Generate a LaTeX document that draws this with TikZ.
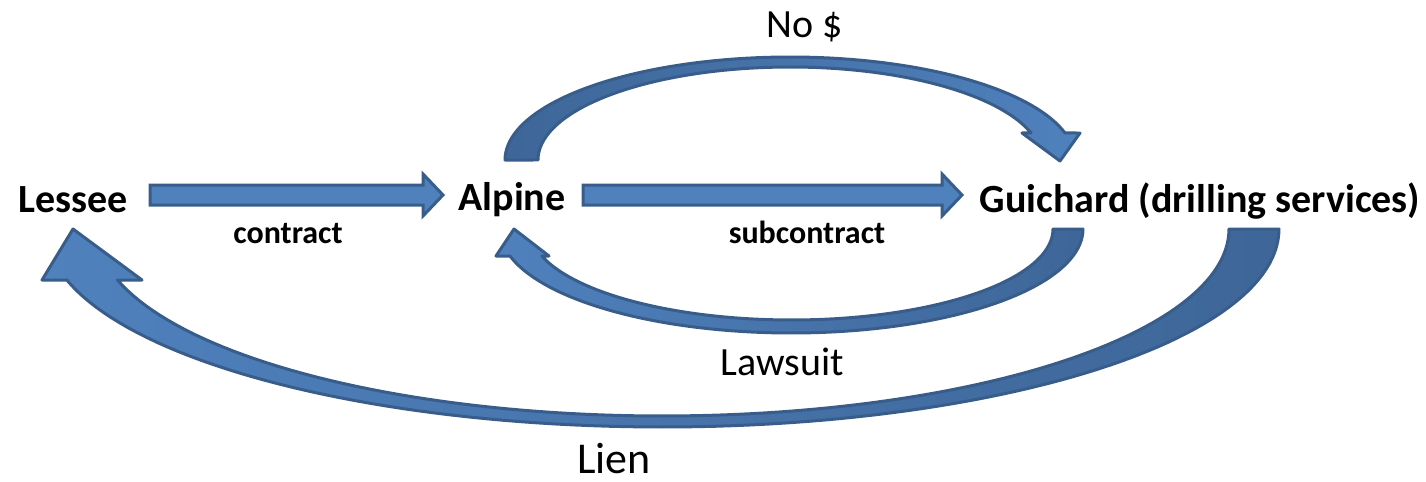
\documentclass[tikz,border=0pt]{standalone}
\usepackage{fontspec}
\setmainfont{Carlito}
\definecolor{afill}{HTML}{4F81BD}
\definecolor{aline}{HTML}{385D8A}
\definecolor{adark}{HTML}{3E6698}
\begin{document}
\begin{tikzpicture}[x=0.5pt,y=-0.5pt,
  blockarrow/.style={fill=afill, draw=aline, line width=1.5pt, line join=miter},
  curvearrow/.style={draw=aline, line width=1.5pt, line join=round},
  party/.style={font=\bfseries\fontsize{20}{24}\selectfont, anchor=base, inner sep=0pt},
  deal/.style={font=\bfseries\fontsize{16}{19}\selectfont, anchor=base, inner sep=0pt},
  tag/.style={font=\fontsize{20}{24}\selectfont, anchor=base, inner sep=0pt}]
\useasboundingbox (0,0) rectangle (1426,482);

% labels
\node[party] (lessee) at (73,212) {Lessee};
\node[party] (alpine) at (512,210) {Alpine};
\node[party] (guichard) at (1200,212) {Guichard (drilling services)};
\node[deal] (contract) at (288,243) {contract};
\node[deal] (subcontract) at (807,243) {subcontract};
\node[tag] (nomoney) at (805,38) {No \$};
\node[tag] (lawsuit) at (782,375) {Lawsuit};
\node[tag, font=\fontsize{22}{26}\selectfont] (lien) at (614,473) {Lien};

% straight block arrows
\filldraw[blockarrow] (150,185) -- (423,185) -- (423,174) -- (443,195)
  -- (423,216) -- (423,205) -- (150,205) -- cycle;
\filldraw[blockarrow] (583,185) -- (942,185) -- (942,174) -- (962,195)
  -- (942,216) -- (942,205) -- (583,205) -- cycle;

% No $ : curved arrow over the top
\filldraw[curvearrow, left color=adark, right color=afill]
  plot[domain=180:344.8, samples=80] ({790+285*cos(\x)},{160+103*sin(\x)})
  -- (1080,133) -- (1060,161) -- (1022,133)
  -- plot[domain=343.1:180, samples=80] ({790+252*cos(\x)},{160+93*sin(\x)})
  -- cycle;

% Lawsuit : curved arrow below, Guichard to Alpine
\filldraw[curvearrow, left color=afill, right color=adark]
  plot[domain=0:164.95, samples=80] ({791.5+291.5*cos(\x)},{229+104*sin(\x)})
  -- (496,256) -- (514,229) -- (549,256)
  -- plot[domain=162.74:0, samples=80] ({791.5+261.5*cos(\x)},{229+91*sin(\x)})
  -- cycle;

% Lien : large curved arrow, Guichard to Lessee
\filldraw[curvearrow, left color=afill, right color=adark]
  plot[domain=0:165.07, samples=100] ({662.5+616.5*cos(\x)},{229+198*sin(\x)})
  -- (42,280) -- (73,229) -- (142,280)
  -- plot[domain=164.17:0, samples=100] ({662.5+566.5*cos(\x)},{229+187*sin(\x)})
  -- cycle;
\end{tikzpicture}
\end{document}
